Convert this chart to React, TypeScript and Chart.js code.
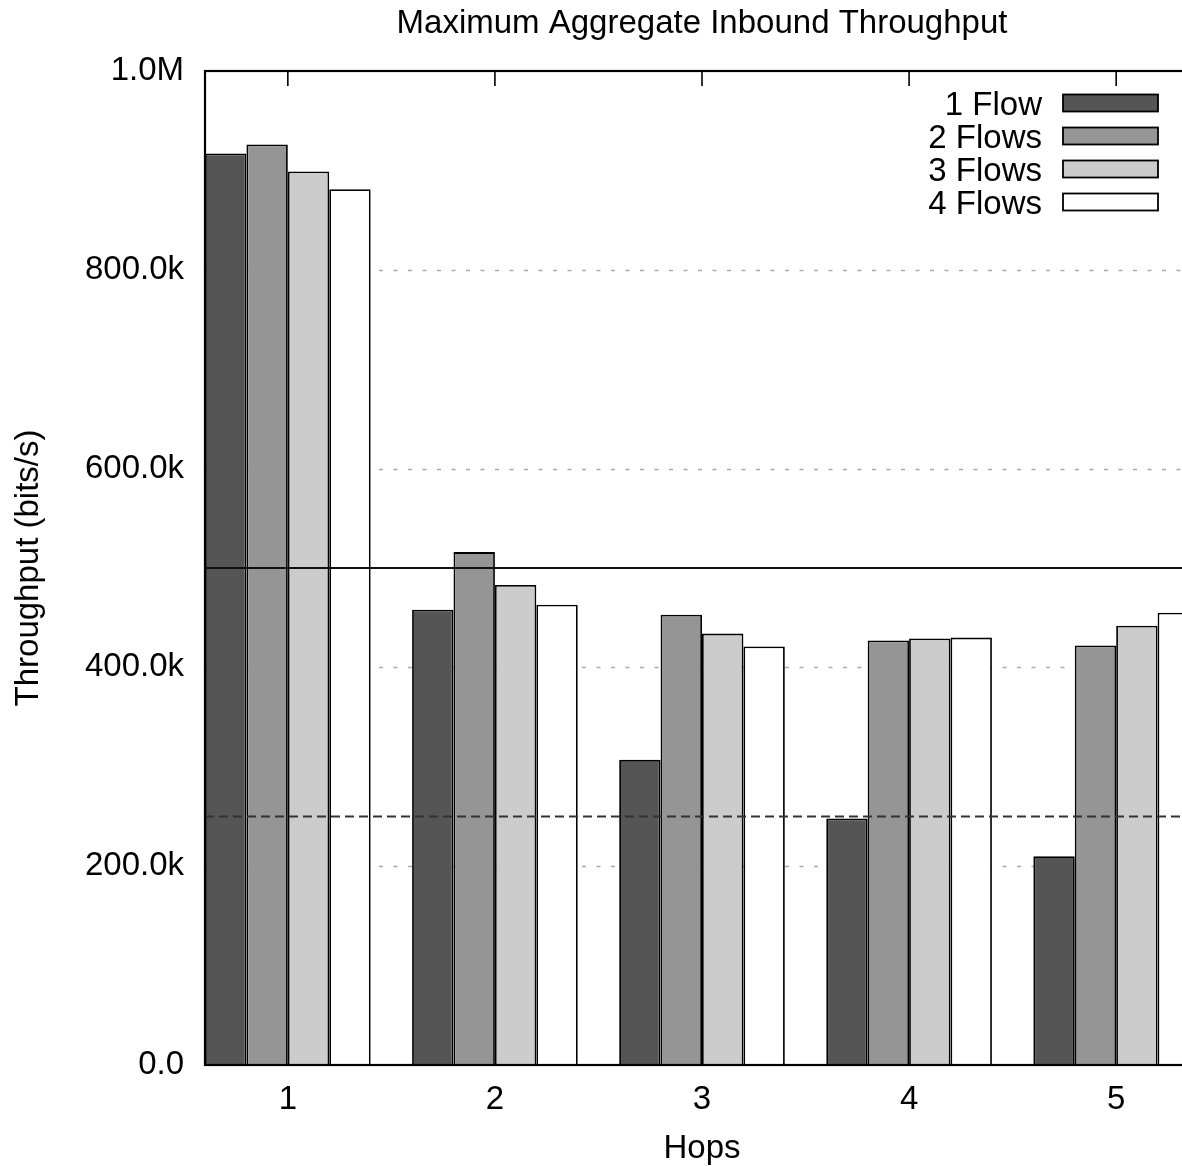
import React, { useEffect, useRef } from "react";
import { Chart, registerables } from "chart.js";

Chart.register(...registerables);

const chartTitle = "Maximum Aggregate Inbound Throughput";
const xTitle = "Hops";
const yTitle = "Throughput (bits/s)";

const hops = [1, 2, 3, 4, 5];
const seriesLabels = ["1 Flow", "2 Flows", "3 Flows", "4 Flows"];
const flow1 = [917000, 458000, 307000, 248000, 210000];
const flow2 = [926000, 516000, 453000, 427000, 422000];
const flow3 = [899000, 483000, 434000, 429000, 442000];
const flow4 = [881000, 463000, 421000, 430000, 455000];
const seriesColors = ["#555555", "#959595", "#cccccc", "#ffffff"];

const yTickValues = [0, 200000, 400000, 600000, 800000, 1000000];
const refSolid = 500000;
const refDashed = 250000;

const FONT = "'Liberation Sans', Arial, Helvetica, sans-serif";
const FS = 33;

function fmtY(v: number): string {
  if (v >= 1000000) return (v / 1000000).toFixed(1) + "M";
  if (v >= 1000) return (v / 1000).toFixed(1) + "k";
  return v.toFixed(1);
}

const decor = {
  id: "decor",
  beforeDatasetsDraw(chart: any) {
    const { ctx, chartArea: a, scales } = chart;
    const y = scales.y;
    ctx.save();
    ctx.strokeStyle = "#aaaaaa";
    ctx.lineWidth = 1.5;
    ctx.setLineDash([4, 10.5]);
    yTickValues.forEach((v) => {
      if (v <= y.min || v >= y.max) return;
      const py = Math.round(y.getPixelForValue(v)) + 0.5;
      ctx.beginPath();
      ctx.moveTo(a.left, py);
      ctx.lineTo(a.right, py);
      ctx.stroke();
    });
    ctx.restore();
  },
  afterDatasetsDraw(chart: any) {
    const { ctx, chartArea: a, scales } = chart;
    const y = scales.y;
    const x = scales.x;
    ctx.save();
    let py = y.getPixelForValue(refSolid);
    ctx.strokeStyle = "#111111";
    ctx.lineWidth = 1.8;
    ctx.beginPath();
    ctx.moveTo(a.left, py);
    ctx.lineTo(a.right, py);
    ctx.stroke();
    py = y.getPixelForValue(refDashed);
    ctx.strokeStyle = "#333333";
    ctx.lineWidth = 2.2;
    ctx.setLineDash([9, 5]);
    ctx.beginPath();
    ctx.moveTo(a.left, py);
    ctx.lineTo(a.right, py);
    ctx.stroke();
    ctx.setLineDash([]);
    ctx.strokeStyle = "#000000";
    ctx.lineWidth = 2.2;
    ctx.strokeRect(a.left, a.top, a.right - a.left, a.bottom - a.top);
    ctx.lineWidth = 1.6;
    hops.forEach((h) => {
      const px = x.getPixelForValue(h);
      ctx.beginPath();
      ctx.moveTo(px, a.top);
      ctx.lineTo(px, a.top + 15);
      ctx.stroke();
    });
    ctx.restore();
  },
  afterDraw(chart: any) {
    const { ctx, chartArea: a } = chart;
    const cx = (a.left + a.right) / 2;
    ctx.save();
    ctx.fillStyle = "#000000";
    ctx.font = `${FS}px ${FONT}`;
    ctx.textAlign = "center";
    ctx.textBaseline = "alphabetic";
    ctx.fillText(chartTitle, cx, 33);
    ctx.fillText(xTitle, cx, 1158);
    ctx.save();
    ctx.translate(38, (a.top + a.bottom) / 2);
    ctx.rotate(-Math.PI / 2);
    ctx.fillText(yTitle, 0, 0);
    ctx.restore();
    const ds = chart.data.datasets;
    ds.forEach((d: any, i: number) => {
      const rowY = 103 + i * 33;
      ctx.textAlign = "right";
      ctx.fillStyle = "#000000";
      ctx.fillText(d.label, 1042, rowY + 11.5);
      ctx.fillStyle = d.backgroundColor;
      ctx.fillRect(1063, rowY - 8.5, 95, 17);
      ctx.strokeStyle = "#000000";
      ctx.lineWidth = 1.8;
      ctx.strokeRect(1063, rowY - 8.5, 95, 17);
    });
    ctx.restore();
  },
};

export default function App() {
  const ref = useRef<HTMLCanvasElement | null>(null);
  useEffect(() => {
    document.body.style.margin = "0";
    const canvas = ref.current!;
    const series = [flow1, flow2, flow3, flow4];
    const chart = new Chart(canvas, {
      type: "bar",
      data: {
        datasets: series.map((vals, i) => ({
          label: seriesLabels[i],
          data: hops.map((h, j) => ({ x: h, y: vals[j] })),
          backgroundColor: seriesColors[i],
          borderColor: "#000000",
          borderWidth: 1.8,
          categoryPercentage: 0.8,
          barPercentage: 1.0,
        })),
      },
      options: {
        responsive: false,
        devicePixelRatio: 1,
        animation: false,
        layout: { padding: { top: 71, right: 11, left: 0, bottom: 0 } },
        plugins: {
          legend: { display: false },
          title: { display: false },
          tooltip: { enabled: false },
        },
        scales: {
          x: {
            type: "linear",
            min: 0.6,
            max: 5.4,
            offset: false,
            afterBuildTicks: (axis: any) => {
              axis.ticks = hops.map((v) => ({ value: v }));
            },
            afterFit: (scale: any) => {
              scale.height = 101;
            },
            grid: { display: false, drawTicks: false },
            border: { display: false },
            ticks: {
              padding: 15,
              color: "#000000",
              font: { family: FONT, size: FS },
              callback: (v: any) => String(v),
              maxRotation: 0,
              autoSkip: false,
            },
          },
          y: {
            type: "linear",
            min: 0,
            max: 1000000,
            afterBuildTicks: (axis: any) => {
              axis.ticks = yTickValues.map((v) => ({ value: v }));
            },
            afterFit: (scale: any) => {
              scale.width = 205;
            },
            grid: { display: false, drawTicks: false },
            border: { display: false },
            ticks: {
              padding: 21,
              color: "#000000",
              font: { family: FONT, size: FS },
              callback: (v: any) => fmtY(Number(v)),
            },
          },
        },
      },
      plugins: [decor],
    } as any);
    return () => chart.destroy();
  }, []);
  return (
    <div style={{ width: 1182, height: 1166, overflow: "hidden", position: "relative", background: "#fff" }}>
      <canvas ref={ref} width={1210} height={1166} style={{ width: 1210, height: 1166, display: "block" }} />
    </div>
  );
}
